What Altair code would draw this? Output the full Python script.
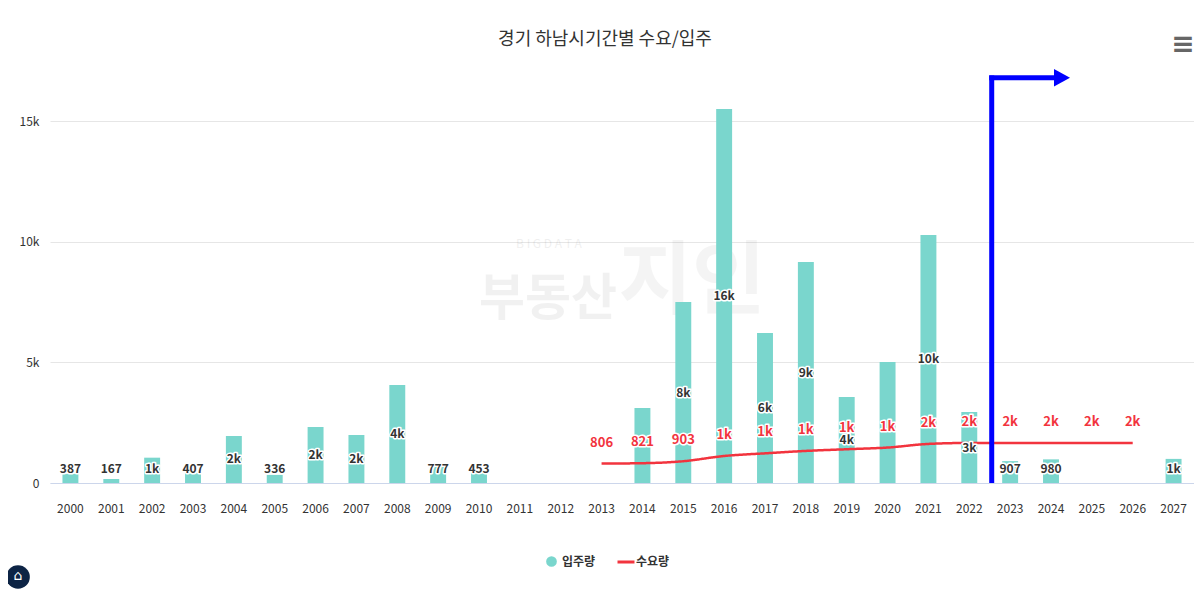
import altair as alt
import pandas as pd

# ---------------- data ----------------
years = ["2000", "2001", "2002", "2003", "2004", "2005", "2006", "2007", "2008", "2009",
         "2010", "2011", "2012", "2013", "2014", "2015", "2016", "2017", "2018", "2019",
         "2020", "2021", "2022", "2023", "2024", "2025", "2026", "2027"]
# 입주량 (bars)
supply = [387, 167, 1050, 407, 1950, 336, 2320, 1990, 4060, 777,
          453, None, None, None, 3110, 7500, 15510, 6220, 9160, 3570,
          5020, 10280, 2940, 907, 980, None, None, 1000]
# 수요량 (line)
demand = [None, None, None, None, None, None, None, None, None, None,
          None, None, None, 806, 821, 903, 1120, 1230, 1330, 1400,
          1470, 1620, 1660, 1660, 1660, 1660, 1660, None]
# bar labels hidden in the reference (overlapping the red labels)
hidden_supply_labels = ["2014", "2020"]
supply_name = "입주량"
demand_name = "수요량"
title_text = "경기 하남시기간별 수요/입주"
y_ticks = [0, 5000, 10000, 15000]
# annotation (blue arrow): from between 2022/2023 up and to the right
arrow_from = "2022"
arrow_to = "2024"
arrow_level = 16800

TEAL = "#7ad6cd"
RED = "#f2343e"
BLUE = "#0000ff"
FONT = "Noto Sans CJK KR"
W = 1144
STEP = W / len(years)  # band step (px)


def short(v):
    return str(int(v)) if v < 1000 else f"{int(v / 1000 + 0.5)}k"


sup = pd.DataFrame({"year": years, "value": supply}).dropna()
sup["series"] = supply_name
sup["label"] = sup["value"].map(short)
sup["labelY"] = sup["value"].map(lambda v: max(v / 2, 560))
sup_lab = sup[~sup["year"].isin(hidden_supply_labels)]

dem = pd.DataFrame({"year": years, "value": demand}).dropna()
dem["series"] = demand_name
dem["label"] = dem["value"].map(short)

ann = pd.DataFrame({"year": [arrow_from], "year2": [arrow_to], "base": [0], "level": [arrow_level]})
ann_tip = pd.DataFrame({"year": [arrow_to], "level": [arrow_level]})

# ---------------- scales / axes ----------------
xscale = alt.Scale(domain=years, paddingInner=0.61, paddingOuter=0.305)
xaxis = alt.Axis(title=None, labelAngle=0, ticks=False, domainColor="#ccd6eb", domainWidth=1,
                 labelFont=FONT, labelFontSize=12, labelColor="#333333", labelPadding=20, grid=False)
yscale = alt.Scale(domain=[0, 17000], nice=False, zero=True)
yaxis = alt.Axis(title=None, values=y_ticks, domain=False, ticks=False, gridColor="#e6e6e6",
                 labelExpr="datum.value == 0 ? '0' : (datum.value / 1000) + 'k'",
                 labelFont=FONT, labelFontSize=12, labelColor="#333333", labelPadding=11)


def X(field="year"):
    return alt.X(f"{field}:N", scale=xscale, axis=xaxis)


def Y(field="value"):
    return alt.Y(f"{field}:Q", scale=yscale, axis=yaxis)


leg_common = dict(title=None, orient="none", direction="horizontal", padding=0,
                  labelFont=FONT, labelFontSize=12, labelFontWeight="bold", labelColor="#333333")
color = alt.Color("series:N", scale=alt.Scale(domain=[supply_name], range=[TEAL]),
                  legend=alt.Legend(legendX=495, legendY=482, symbolType="circle", symbolSize=115,
                                    symbolOpacity=1, labelOffset=4, **leg_common))
dash = alt.StrokeDash("series:N", scale=alt.Scale(domain=[demand_name], range=[[1, 0]]),
                      legend=alt.Legend(legendX=566, legendY=479, symbolType="stroke", symbolSize=289,
                                        symbolStrokeColor=RED, symbolStrokeWidth=3, symbolOpacity=1,
                                        labelOffset=0, **leg_common))

# ---------------- decoration (title, watermark, icons) ----------------
title = alt.Chart(pd.DataFrame({"t": [title_text]})).mark_text(
    font=FONT, fontSize=18, color="#333333", baseline="middle"
).encode(text="t:N", x=alt.value(555), y=alt.value(-33))

wm_small = alt.Chart(pd.DataFrame({"t": ["B  I  G  D  A  T  A"]})).mark_text(
    font=FONT, fontSize=12, color="#000000", opacity=0.06
).encode(text="t:N", x=alt.value(499), y=alt.value(171))
wm_big = alt.Chart(pd.DataFrame({"t": ["부동산"]})).mark_text(
    font=FONT, fontSize=50, fontWeight="bold", color="#000000", opacity=0.05
).encode(text="t:N", x=alt.value(498), y=alt.value(227))
wm_big2 = alt.Chart(pd.DataFrame({"t": ["지인"]})).mark_text(
    font=FONT, fontSize=80, fontWeight="bold", color="#000000", opacity=0.04
).encode(text="t:N", x=alt.value(642), y=alt.value(210))

menu = alt.Chart(pd.DataFrame({"t": ["≡"]})).mark_text(
    font="DejaVu Sans", fontSize=28, fontWeight="bold", color="#666666"
).encode(text="t:N", x=alt.value(1133), y=alt.value(-28))
logo = alt.Chart(pd.DataFrame({"t": ["logo"]})).mark_point(
    shape="circle", filled=True, size=560, color="#0d2445", opacity=1
).encode(x=alt.value(-32), y=alt.value(504))
logo_in = alt.Chart(pd.DataFrame({"t": ["⌂"]})).mark_text(
    font="DejaVu Sans", fontSize=14, color="#ffffff"
).encode(text="t:N", x=alt.value(-32), y=alt.value(503))

# ---------------- data layers ----------------
bars = alt.Chart(sup).mark_bar().encode(x=X(), y=Y(), color=color)

line = alt.Chart(dem).mark_line(interpolate="monotone", strokeWidth=2.5, color=RED).encode(
    x=X(), y=Y(), strokeDash=dash)

bar_halo = alt.Chart(sup_lab).mark_text(
    font=FONT, fontSize=12, fontWeight="bold", color="white", stroke="white", strokeWidth=3,
    baseline="middle", strokeJoin="round"
).encode(x=X(), y=Y("labelY"), text="label:N")
bar_text = alt.Chart(sup_lab).mark_text(
    font=FONT, fontSize=12, fontWeight="bold", color="#333333", baseline="middle"
).encode(x=X(), y=Y("labelY"), text="label:N")

dem_halo = alt.Chart(dem).mark_text(
    font=FONT, fontSize=13, fontWeight="bold", color="white", stroke="white", strokeWidth=3,
    baseline="middle", dy=-21, strokeJoin="round"
).encode(x=X(), y=Y(), text="label:N")
dem_text = alt.Chart(dem).mark_text(
    font=FONT, fontSize=13, fontWeight="bold", color=RED, baseline="middle", dy=-21
).encode(x=X(), y=Y(), text="label:N")

# ---------------- blue annotation arrow ----------------
vrule = alt.Chart(ann).mark_rule(color=BLUE, strokeWidth=5, xOffset=STEP / 2 + 2, strokeCap="butt").encode(
    x=X(), y=Y("base"), y2=alt.Y2("level2:Q")
).transform_calculate(level2="datum.level + 100")
hrule = alt.Chart(ann).mark_rule(color=BLUE, strokeWidth=5, xOffset=STEP / 2 + 2, x2Offset=2,
                                 strokeCap="square").encode(
    x=X(), x2=alt.X2("year2:N"), y=Y("level")
)
tip = alt.Chart(ann_tip).mark_point(
    shape="M-1,-1.1L1,0L-1,1.1Z", size=256, filled=True, color=BLUE, opacity=1, xOffset=11
).encode(x=X(), y=Y("level"))

chart = alt.layer(
    wm_small, wm_big, wm_big2,
    bars, line, bar_halo, bar_text, dem_halo, dem_text,
    vrule, hrule, tip, title, menu, logo, logo_in,
).resolve_legend(color="independent", strokeDash="independent").properties(
    width=W, height=410, autosize="none",
    padding={"left": 42, "top": 65, "right": 0, "bottom": 120},
    background="white",
).configure_view(stroke=None)

chart.save("out.html", embed_options={"renderer": "svg", "actions": False})
